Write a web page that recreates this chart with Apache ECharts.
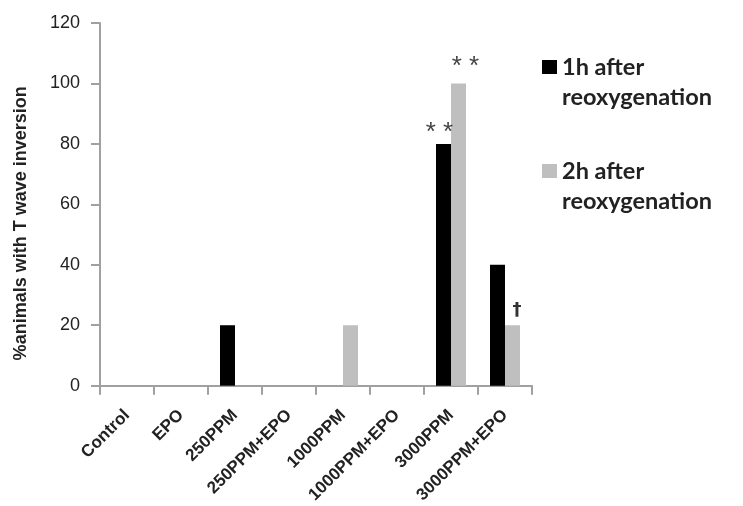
<!DOCTYPE html>
<html>
<head>
<meta charset="utf-8">
<script src="https://cdn.jsdelivr.net/npm/echarts@6/dist/echarts.min.js"></script>
<style>
html,body{margin:0;padding:0;background:#fff;}
#chart{width:743px;height:506px;}
</style>
</head>
<body>
<div id="chart"></div>
<script>
var categories = ['Control', 'EPO', '250PPM', '250PPM+EPO', '1000PPM', '1000PPM+EPO', '3000PPM', '3000PPM+EPO'];
var seriesNames = ['1h after\nreoxygenation', '2h after\nreoxygenation'];
var oneHour = [0, 0, 20, 0, 0, 0, 80, 40];
var twoHour = [0, 0, 0, 0, 20, 0, 100, 20];
var oneHourMarks = ['', '', '', '', '', '', '**', ''];
var twoHourMarks = ['', '', '', '', '', '', '**', '†'];
var yTicks = [0, 20, 40, 60, 80, 100, 120];
var yAxisTitle = '%animals with T wave inversion';

var chart = echarts.init(document.getElementById('chart'), null, {renderer: 'canvas'});

function markFormatter(marks) {
  return function (p) {
    var m = marks[p.dataIndex];
    if (m === '**') return '{s|* *}';
    if (m === '†') return '{d|†}';
    return '';
  };
}

var SANS = 'Liberation Sans, Arial, sans-serif';

var option = {
  backgroundColor: '#ffffff',
  animation: false,
  grid: {left: 100, right: 211, top: 23, bottom: 119, containLabel: false},
  legend: {
    orient: 'vertical',
    left: 537,
    top: 17,
    itemWidth: 15,
    itemHeight: 14,
    itemGap: 14,
    icon: 'rect',
    selectedMode: false,
    formatter: function (name) { return '\n' + name; },
    textStyle: {
      fontFamily: 'Lato',
      fontWeight: 'bold',
      fontSize: 23.5,
      color: '#222',
      lineHeight: 30
    },
    data: seriesNames
  },
  xAxis: {
    type: 'category',
    data: categories,
    axisLine: {lineStyle: {color: '#a0a0a0', width: 2}},
    axisTick: {show: true, length: 9, lineStyle: {color: '#a0a0a0', width: 2}},
    axisLabel: {
      rotate: 45,
      margin: 27,
      fontFamily: SANS,
      fontWeight: 'bold',
      fontSize: 17,
      color: '#222',
      interval: 0
    },
    splitLine: {show: false}
  },
  yAxis: {
    type: 'value',
    min: yTicks[0],
    max: yTicks[yTicks.length - 1],
    interval: yTicks[1] - yTicks[0],
    name: yAxisTitle,
    nameLocation: 'middle',
    nameGap: 70,
    nameTextStyle: {
      fontFamily: SANS,
      fontWeight: 'bold',
      fontSize: 18,
      color: '#222',
      padding: [0, 38, 0, 0]
    },
    axisLine: {show: true, lineStyle: {color: '#a0a0a0', width: 2}},
    axisTick: {show: true, length: 9, lineStyle: {color: '#a0a0a0', width: 2}},
    axisLabel: {
      margin: 20,
      fontFamily: SANS,
      fontSize: 18,
      color: '#222'
    },
    splitLine: {show: false}
  },
  series: [
    {
      name: seriesNames[0],
      type: 'bar',
      data: oneHour,
      barWidth: 15,
      barGap: '0%',
      itemStyle: {color: '#000000'},
      label: {
        show: true,
        position: 'top',
        distance: -2,
        formatter: markFormatter(oneHourMarks),
        rich: {
          s: {fontFamily: SANS, fontSize: 26, color: '#444', padding: [0, 8, 0, 0]},
          d: {fontFamily: SANS, fontSize: 20, color: '#333'}
        }
      }
    },
    {
      name: seriesNames[1],
      type: 'bar',
      data: twoHour,
      barWidth: 15,
      barGap: '0%',
      itemStyle: {color: '#bfbfbf'},
      label: {
        show: true,
        position: 'top',
        distance: 0,
        formatter: markFormatter(twoHourMarks),
        rich: {
          s: {fontFamily: SANS, fontSize: 26, color: '#444', padding: [0, 0, 4, 14]},
          d: {fontFamily: 'DejaVu Sans', fontSize: 18, fontWeight: 'bold', color: '#333', padding: [0, 0, 6, 9]}
        }
      }
    }
  ]
};
chart.setOption(option);
</script>
</body>
</html>
